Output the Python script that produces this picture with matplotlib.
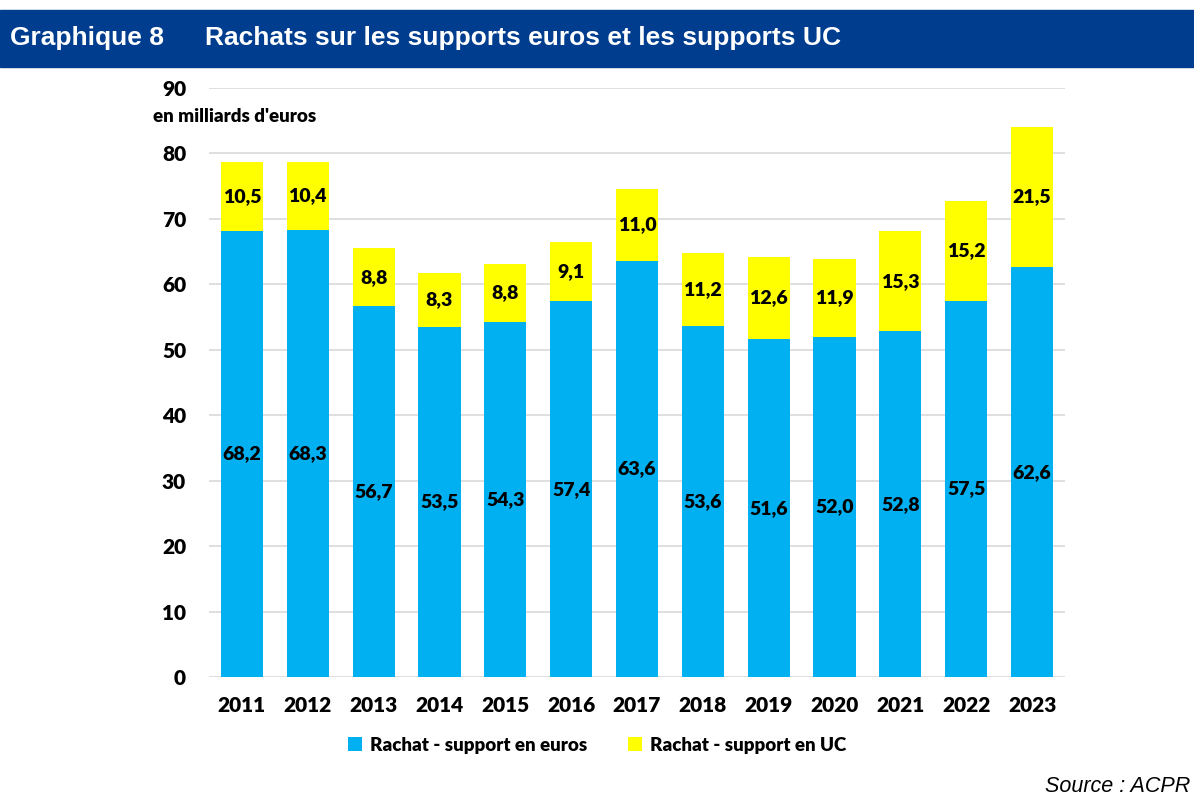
import matplotlib
matplotlib.use("Agg")
import matplotlib.pyplot as plt
import matplotlib.patches as patches
import numpy as np

years = ["2011", "2012", "2013", "2014", "2015", "2016", "2017",
         "2018", "2019", "2020", "2021", "2022", "2023"]
euros = [68.2, 68.3, 56.7, 53.5, 54.3, 57.4, 63.6, 53.6, 51.6, 52.0, 52.8, 57.5, 62.6]
uc = [10.5, 10.4, 8.8, 8.3, 8.8, 9.1, 11.0, 11.2, 12.6, 11.9, 15.3, 15.2, 21.5]
y_ticks = [0, 10, 20, 30, 40, 50, 60, 70, 80, 90]

blue = "#00b0f0"
yellow = "#ffff00"
header = "#003d8f"
label_font = "Lato"


def fr(v):
    return f"{v:.1f}".replace(".", ",")


fig = plt.figure(figsize=(11.94, 7.98), dpi=100)

# Header band
fig.patches.append(patches.Rectangle((0, 1 - 67 / 798), 1, 57 / 798,
                                     transform=fig.transFigure,
                                     color=header, zorder=0))
fig.text(10 / 1194, 1 - 38 / 798, "Graphique 8", color="white",
         fontsize=19, fontweight="bold", family="Liberation Sans", va="center")
fig.text(205 / 1194, 1 - 38 / 798, "Rachats sur les supports euros et les supports UC",
         color="white", fontsize=19, fontweight="bold", family="Liberation Sans",
         va="center")

ax = fig.add_axes([209 / 1194, 1 - 677 / 798, 856 / 1194, 589 / 798])
x = np.arange(len(years))
w = 0.64
b1 = ax.bar(x, euros, w, color=blue, label="Rachat - support en euros", zorder=3)
b2 = ax.bar(x, uc, w, bottom=euros, color=yellow, label="Rachat - support en UC", zorder=3)

for i in range(len(years)):
    ax.text(x[i], euros[i] / 2, fr(euros[i]), ha="center", va="center",
            fontsize=14, fontweight="heavy", family=label_font, zorder=4)
    ax.text(x[i], euros[i] + uc[i] / 2, fr(uc[i]), ha="center", va="center",
            fontsize=14, fontweight="heavy", family=label_font, zorder=4)

ax.set_xlim(-0.5, len(years) - 0.5)
ax.set_ylim(0, 90)
ax.set_yticks(y_ticks)
ax.set_xticks(x)
ax.set_xticklabels(years)
ax.yaxis.grid(True, color="#d9d9d9", linewidth=1.2, zorder=0)
ax.set_axisbelow(True)
for s in ax.spines.values():
    s.set_visible(False)
ax.tick_params(length=0)
ax.tick_params(axis="y", pad=16.5)
ax.tick_params(axis="x", pad=14)
for lab in ax.get_xticklabels() + ax.get_yticklabels():
    lab.set_fontsize(15)
    lab.set_fontweight("heavy")
    lab.set_family(label_font)

fig.text(153 / 1194, 1 - 117 / 798, "en milliards d'euros", fontsize=13.5,
         fontweight="heavy", family=label_font, va="center")

fig.legend(handles=[b1, b2], loc="center", bbox_to_anchor=(597 / 1194, 1 - 745 / 798),
           ncol=2, frameon=False, handlelength=0.75, handleheight=0.75,
           columnspacing=2.2, handletextpad=0.4,
           prop={"family": label_font, "weight": "heavy", "size": 13.5})

fig.text(1190 / 1194, 1 - 787 / 798, "Source : ACPR", fontsize=15.5,
         style="italic", family="Liberation Sans", ha="right", va="center")

fig.savefig("out.png", dpi=100)
